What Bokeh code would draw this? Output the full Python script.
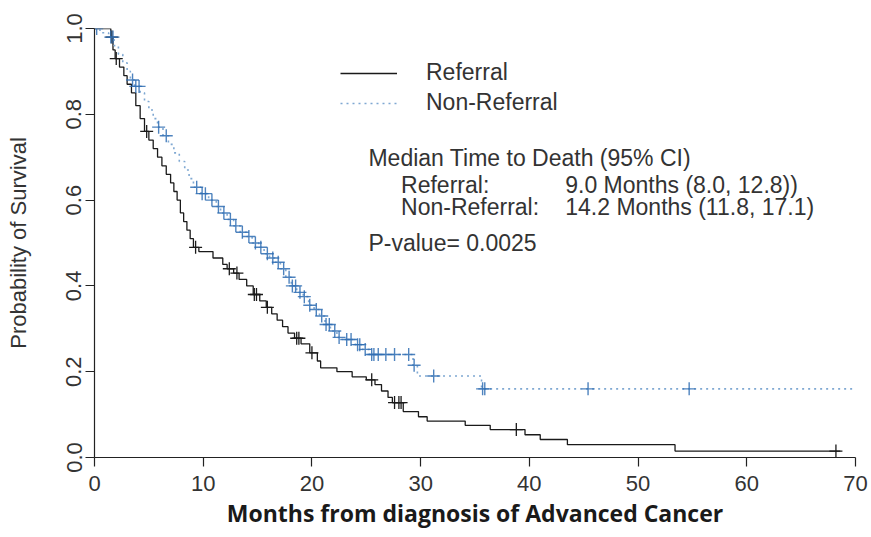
import numpy as np
from bokeh.plotting import figure
from bokeh.models import Range1d, FixedTicker, PrintfTickFormatter, Label
from bokeh.embed import file_html
from bokeh.resources import INLINE

# ---------------- data ----------------
ref_time = [0, 1.5, 1.7, 1.9, 2.3, 2.7, 3.0, 3.4, 3.8, 4.2, 4.6, 5.0, 5.4, 5.8, 6.2, 6.6,
            7.0, 7.3, 7.6, 7.9, 8.2, 8.5, 8.8, 9.1, 9.6, 10.9, 11.8, 12.2, 12.8, 13.3,
            14.0, 14.6, 15.2, 15.8, 16.3, 16.8, 17.3, 17.8, 18.4, 19.0, 19.8, 20.5, 20.8,
            22.3, 23.7, 25.0, 25.8, 26.4, 27.0, 27.4, 28.4, 29.8, 30.6, 34.1, 36.4, 39.6,
            41.0, 43.5, 53.4, 68.6]
ref_surv = [1.0, 0.98, 0.95, 0.93, 0.91, 0.89, 0.87, 0.85, 0.82, 0.79, 0.76, 0.74, 0.72,
            0.70, 0.68, 0.66, 0.64, 0.62, 0.60, 0.57, 0.55, 0.53, 0.51, 0.49, 0.48, 0.465,
            0.45, 0.44, 0.43, 0.415, 0.40, 0.38, 0.365, 0.35, 0.335, 0.32, 0.305, 0.29,
            0.278, 0.265, 0.244, 0.225, 0.209, 0.20, 0.188, 0.181, 0.17, 0.155, 0.14, 0.128,
            0.107, 0.095, 0.085, 0.075, 0.065, 0.053, 0.042, 0.03, 0.015, 0.015]
ref_censor_time = [1.6, 2.0, 4.8, 9.3, 12.4, 13.1, 14.7, 14.9, 15.9, 18.6, 18.8, 20.0,
                   25.5, 27.6, 28.0, 28.2, 38.8, 68.2]

nonref_time = [0, 0.5, 1.3, 1.8, 2.2, 2.6, 3.0, 3.3, 3.7, 4.2, 4.6, 5.0, 5.4, 5.8, 6.3, 6.8,
               7.3, 7.8, 8.3, 8.7, 9.1, 9.8, 10.5, 11.2, 11.6, 12.2, 12.8, 13.4, 14.0, 14.5,
               15.1, 15.6, 16.1, 16.6, 17.1, 17.6, 18.1, 18.6, 19.2, 19.7, 20.2, 20.7, 21.2,
               21.7, 22.3, 22.8, 24.0, 24.6, 25.3, 29.3, 29.7, 35.6, 70.0]
nonref_surv = [1.0, 0.99, 0.98, 0.96, 0.94, 0.92, 0.90, 0.88, 0.865, 0.85, 0.83, 0.81, 0.79,
               0.77, 0.75, 0.73, 0.71, 0.69, 0.67, 0.65, 0.63, 0.615, 0.60, 0.585, 0.57,
               0.555, 0.54, 0.525, 0.515, 0.50, 0.49, 0.475, 0.465, 0.455, 0.44, 0.42, 0.40,
               0.385, 0.375, 0.355, 0.345, 0.33, 0.31, 0.295, 0.28, 0.275, 0.263, 0.252,
               0.24, 0.215, 0.19, 0.16, 0.16]
nonref_censor_time = [0.2, 1.5, 1.7, 3.5, 3.8, 4.1, 5.9, 6.6, 9.4, 9.9, 10.2, 10.8, 11.4,
                      11.9, 12.5, 13.0, 13.6, 14.2, 14.8, 15.3, 15.9, 16.4, 16.9, 17.4, 17.9,
                      18.2, 18.5, 18.9, 19.3, 19.8, 20.4, 20.9, 21.3, 21.6, 22.1, 22.5, 23.2,
                      23.6, 24.2, 24.4, 24.9, 25.5, 25.7, 26.1, 26.8, 27.6, 28.9, 29.4, 31.2,
                      35.7, 35.9, 45.4, 54.7]

x_ticks = [0, 10, 20, 30, 40, 50, 60, 70]
y_ticks = [0.0, 0.2, 0.4, 0.6, 0.8, 1.0]

series_names = ["Referral", "Non-Referral"]
x_title = "Months from diagnosis of Advanced Cancer"
y_title = "Probability of Survival"
median_title = "Median Time to Death (95% CI)"
median_groups = ["Referral:", "Non-Referral:"]
median_values = ["9.0 Months (8.0, 12.8))", "14.2 Months (11.8, 17.1)"]
p_value_text = "P-value= 0.0025"


def surv_at(times, surv, t):
    idx = np.searchsorted(np.array(times), np.array(t), side="right") - 1
    return np.array(surv)[idx]


FONT = "Liberation Sans"
TXT = "23px"

p = figure(width=868, height=535, output_backend="svg", toolbar_location=None,
           x_range=Range1d(0, 70), y_range=Range1d(0, 1.0),
           min_border_left=94, min_border_right=13, min_border_top=28, min_border_bottom=78)
p.outline_line_color = None
p.grid.visible = False
p.background_fill_color = "white"

# curves
p.step(ref_time, ref_surv, mode="after", line_color="#1a1a1a", line_width=1.3,
       legend_label=series_names[0])
p.step(nonref_time, nonref_surv, mode="after", line_color="#7fa8d2", line_width=1.6,
       line_dash="2 4", legend_label=series_names[1])

# censor marks
p.scatter(ref_censor_time, surv_at(ref_time, ref_surv, ref_censor_time), marker="cross",
          size=13, line_color="#1a1a1a", line_width=1.3)
p.scatter(nonref_censor_time, surv_at(nonref_time, nonref_surv, nonref_censor_time),
          marker="cross", size=13, line_color="#2f6db3", line_width=1.4, line_alpha=0.85)

# axes
for ax in (p.xaxis[0], p.yaxis[0]):
    ax.axis_line_color = "#222222"
    ax.axis_line_width = 1.2
    ax.major_tick_line_color = "#222222"
    ax.major_tick_line_width = 1.2
    ax.major_tick_out = 9
    ax.major_tick_in = 0
    ax.minor_tick_line_color = None
    ax.major_label_text_font = FONT
    ax.major_label_text_font_size = "22px"
    ax.major_label_text_color = "#333333"

p.xaxis.ticker = FixedTicker(ticks=x_ticks)
p.yaxis.ticker = FixedTicker(ticks=y_ticks)
p.yaxis.formatter = PrintfTickFormatter(format="%.1f")
p.yaxis.major_label_orientation = "vertical"
p.xaxis.major_label_standoff = 9
p.yaxis.major_label_standoff = 4

p.yaxis.axis_label = y_title
p.yaxis.axis_label_text_font = FONT
p.yaxis.axis_label_text_font_size = "22px"
p.yaxis.axis_label_text_font_style = "normal"
p.yaxis.axis_label_text_color = "#333333"
p.yaxis.axis_label_standoff = 33

p.xaxis.axis_label = x_title
p.xaxis.axis_label_text_font = "Open Sans"
p.xaxis.axis_label_text_font_size = "23px"
p.xaxis.axis_label_text_font_style = "bold"
p.xaxis.axis_label_text_color = "#1a1a1a"
p.xaxis.axis_label_standoff = 3

# legend
lg = p.legend[0]
lg.location = (246, 341)
lg.label_text_font = FONT
lg.label_text_font_size = TXT
lg.label_text_color = "#333333"
lg.glyph_width = 57
lg.glyph_height = 24
lg.label_height = 24
lg.label_standoff = 29
lg.spacing = 3
lg.padding = 0
lg.margin = 0
lg.border_line_alpha = 0
lg.background_fill_alpha = 0


def add_text(x, y, text):
    p.add_layout(Label(x=x, y=y, x_units="data", y_units="data", text=text,
                       text_baseline="middle", text_align="left", text_font=FONT,
                       text_font_size=TXT, text_color="#333333"))


add_text(25.2, 0.697, median_title)
add_text(28.2, 0.636, median_groups[0])
add_text(43.3, 0.636, median_values[0])
add_text(28.2, 0.583, median_groups[1])
add_text(43.3, 0.583, median_values[1])
add_text(25.2, 0.499, p_value_text)

open("out.html", "w").write(file_html(p, INLINE))
